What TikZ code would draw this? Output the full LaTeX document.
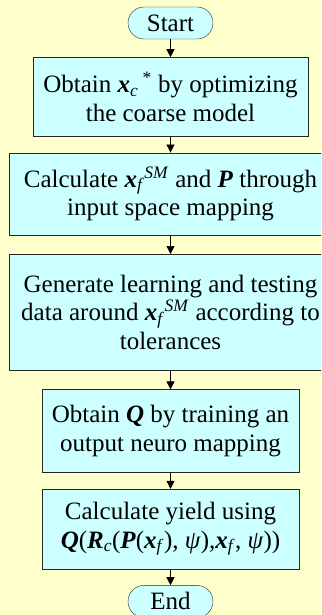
\documentclass[tikz,border=0pt]{standalone}
\usepackage{fontspec}
\setmainfont{Liberation Serif}
\usetikzlibrary{positioning, arrows.meta}
\definecolor{paleyellow}{HTML}{FFFFCC}
\definecolor{palecyan}{HTML}{CCFFFF}
\tikzset{
  startstop/.style={rectangle, rounded corners=16pt, minimum width=85pt, minimum height=32pt, inner sep=0pt, text centered, draw=black!85, fill=palecyan},
  process/.style={rectangle, inner sep=0pt, align=center, draw=black!85, fill=palecyan},
  arrow/.style={line width=0.7pt, -{Triangle[length=8pt,width=8pt]}}
}
\newcommand{\bx}{\textbf{\textit{x}}}
\newcommand{\bsub}[1]{\textsubscript{\textit{#1}}}
\newcommand{\bsup}[1]{\textsuperscript{\textit{#1}}}

\begin{document}
\begin{tikzpicture}[every node/.style={font=\fontsize{25pt}{28.5pt}\selectfont}]
        \clip (0,0) rectangle (321pt,-615pt);
        \fill[paleyellow] (0,0) rectangle (321pt,-615pt);

        \node (start) [startstop] at (170.5pt,-23pt) {Start};
        \node (coarse) [process, below=18pt of start, minimum width=275pt, minimum height=79pt] {Obtain \bx\bsub{c}\,\textsuperscript{*} by optimizing\\the coarse model};
        \node (ism) [process, below=16pt of coarse, minimum width=322pt, minimum height=82pt] {Calculate \bx\bsub{f}\bsup{SM} and \textbf{\textit{P}} through\\input space mapping};
        \node (data) [process, below=19pt of ism, minimum width=323pt, minimum height=116pt] {Generate learning and testing\\data around \bx\bsub{f}\bsup{SM} according to\\tolerances};
        \node (neuro) [process, below=19pt of data, minimum width=257pt, minimum height=83pt] {Obtain \textbf{\textit{Q}} by training an\\output neuro mapping};
        \node (yield) [process, below=16pt of neuro, minimum width=257pt, minimum height=80pt] {Calculate yield using\\\textbf{\textit{Q}}(\textbf{\textit{R}}\bsub{c}(\textbf{\textit{P}}(\bx\bsub{f}), \textit{ψ}),\bx\bsub{f}, \textit{ψ}))};
        \node (end) [startstop, below=16pt of yield] {End};

        \draw [arrow] (start) -- (coarse);
        \draw [arrow] (coarse) -- (ism);
        \draw [arrow] (ism) -- (data);
        \draw [arrow] (data) -- (neuro);
        \draw [arrow] (neuro) -- (yield);
        \draw [arrow] (yield) -- (end);
\end{tikzpicture}
\end{document}
